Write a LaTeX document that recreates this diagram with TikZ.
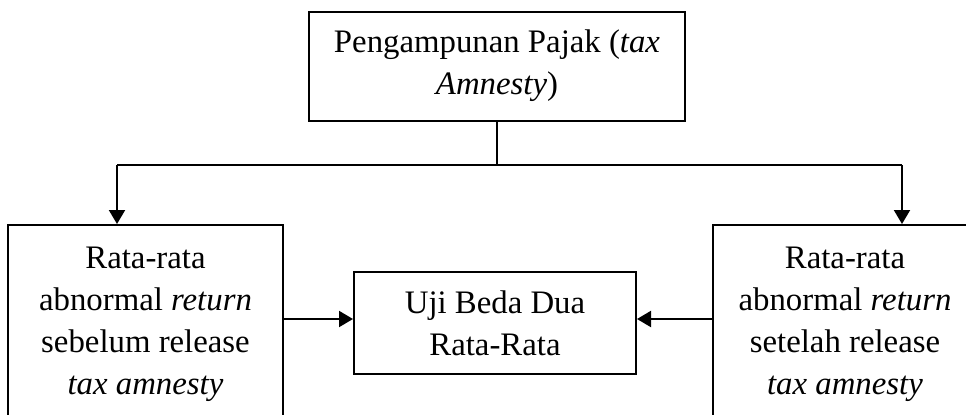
\documentclass[tikz,border=0pt]{standalone}
\usepackage{fontspec}
\setmainfont{Liberation Serif}
\usetikzlibrary{arrows.meta}
\tikzset{
  box/.style={draw, line width=1pt, align=center, inner sep=0pt,
    font=\fontsize{16.4}{21}\selectfont},
  conn/.style={line width=1pt},
  arr/.style={line width=1pt, -{Triangle[length=7pt,width=8pt]}}
}
\begin{document}
\begin{tikzpicture}[x=0.5pt,y=-0.5pt]
\clip (0,0) rectangle (966,414);
\node[box, minimum width=188pt, minimum height=54.5pt] (top) at (497,66)
  {Pengampunan Pajak (\textit{tax}\\\textit{Amnesty})};
\node[box, minimum width=137.5pt, minimum height=99pt] (lbox) at (145.5,324)
  {Rata-rata\\abnormal \textit{return}\\sebelum release\\\textit{tax amnesty}};
\node[box, minimum width=132pt, minimum height=99pt] (rbox) at (845,324)
  {Rata-rata\\abnormal \textit{return}\\setelah release\\\textit{tax amnesty}};
\node[box, minimum width=141pt, minimum height=51pt] (mid) at (495,323)
  {Uji Beda Dua\\Rata-Rata};
\coordinate (la) at (117,165);
\coordinate (ra) at (902,165);
\coordinate (ay) at (0,319);
\draw[conn] (top.south) -- (top.south |- la);
\draw[conn] (la) -- (ra);
\draw[arr] (la) -- (la |- lbox.north);
\draw[arr] (ra) -- (ra |- rbox.north);
\draw[arr] (ay -| lbox.east) -- (ay -| mid.west);
\draw[arr] (ay -| rbox.west) -- (ay -| mid.east);
\end{tikzpicture}
\end{document}
